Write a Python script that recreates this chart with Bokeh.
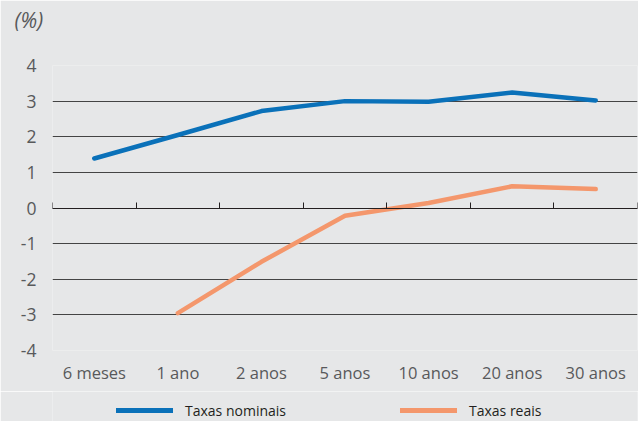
from bokeh.plotting import figure
from bokeh.layouts import column
from bokeh.models import (FixedTicker, LinearAxis, Range1d, Legend, LegendItem,
                          ColumnDataSource, Title)
from bokeh.embed import file_html
from bokeh.resources import INLINE

categories = ["6 meses", "1 ano", "2 anos", "5 anos", "10 anos", "20 anos", "30 anos"]
nominais = [1.39, 2.05, 2.72, 3.00, 2.98, 3.24, 3.02]
reais = [float("nan"), -2.95, -1.51, -0.22, 0.14, 0.61, 0.53]
y_ticks = [-4, -3, -2, -1, 0, 1, 2, 3, 4]
y_tick_labels = ["-4", "-3", "-2", "-1", "0", "1", "2", "3", "4"]
series_names = ["Taxas nominais", "Taxas reais"]
series_colors = ["#0A71B9", "#F4976C"]

BG = "#E6E7E8"
TXT = "#58595B"
FONT = "Open Sans"

xs = [i + 0.5 for i in range(len(categories))]
src = ColumnDataSource(dict(x=xs, nom=nominais, real=reais))

p = figure(width=638, height=391, output_backend="svg", toolbar_location=None,
           x_range=Range1d(0, len(categories)), y_range=Range1d(-4, 4),
           min_border_left=52, min_border_right=1, min_border_top=64,
           min_border_bottom=41, x_axis_type=None)
p.background_fill_color = BG
p.border_fill_color = BG
p.outline_line_color = None

# title
t = Title(text="(%)\n", text_font=FONT, text_font_style="italic", text_font_size="21px",
          text_color=TXT, align="left", offset=-38, standoff=7)
p.add_layout(t, "above")

# y axis
p.yaxis.ticker = FixedTicker(ticks=y_ticks)
p.yaxis.major_label_overrides = {v: s for v, s in zip(y_ticks, y_tick_labels)}
p.yaxis.axis_line_color = None
p.yaxis.major_tick_line_color = None
p.yaxis.minor_tick_line_color = None
p.yaxis.major_label_text_font = FONT
p.yaxis.major_label_text_font_size = "17.5px"
p.yaxis.major_label_text_color = TXT
p.yaxis.major_label_standoff = 10

p.ygrid.ticker = FixedTicker(ticks=y_ticks)
p.ygrid.grid_line_color = "#444444"
p.ygrid.grid_line_width = 1
p.xgrid.grid_line_color = None

# category labels at bottom
xa = LinearAxis(ticker=FixedTicker(ticks=xs),
                major_label_overrides={x: c for x, c in zip(xs, categories)})
xa.axis_line_color = None
xa.major_tick_line_color = None
xa.minor_tick_line_color = None
xa.major_label_text_font = FONT
xa.major_label_text_font_size = "16.5px"
xa.major_label_text_color = TXT
xa.major_label_standoff = 4
p.add_layout(xa, "below")

# zero axis with boundary ticks
za = LinearAxis(fixed_location=0, ticker=FixedTicker(ticks=list(range(len(categories) + 1))))
za.axis_line_color = "#231F20"
za.axis_line_width = 1.2
za.major_tick_line_color = "#231F20"
za.major_tick_in = 6
za.major_tick_out = 0
za.minor_tick_line_color = None
za.major_label_text_font_size = "0px"
za.major_label_text_color = None
za.major_label_standoff = 0
p.add_layout(za, "below")

p.line("x", "nom", source=src, line_color=series_colors[0], line_width=4.5,
       line_cap="round", line_join="round")
p.line("x", "real", source=src, line_color=series_colors[1], line_width=4.5,
       line_cap="round", line_join="round")

# legend strip
lg = figure(width=638, height=30, output_backend="svg", toolbar_location=None,
            x_range=Range1d(0, 1), y_range=Range1d(0, 1),
            min_border=0, x_axis_type=None, y_axis_type=None)
lg.background_fill_color = BG
lg.border_fill_color = BG
lg.outline_line_color = None
lg.grid.visible = False
items = []
for name, col in zip(series_names, series_colors):
    r = lg.line(x=[float("nan")], y=[float("nan")], line_color=col, line_width=5,
                line_cap="round")
    items.append(LegendItem(label=name, renderers=[r]))

legend = Legend(items=items, location=(64, 1), orientation="horizontal", spacing=114,
                glyph_width=57, glyph_height=20, label_standoff=12,
                padding=0, margin=0, background_fill_alpha=0, border_line_color=None,
                label_text_font=FONT, label_text_font_size="14px",
                label_text_color="#231F20")
lg.add_layout(legend, "center")

open("out.html", "w").write(file_html(column(p, lg, spacing=0), INLINE))
